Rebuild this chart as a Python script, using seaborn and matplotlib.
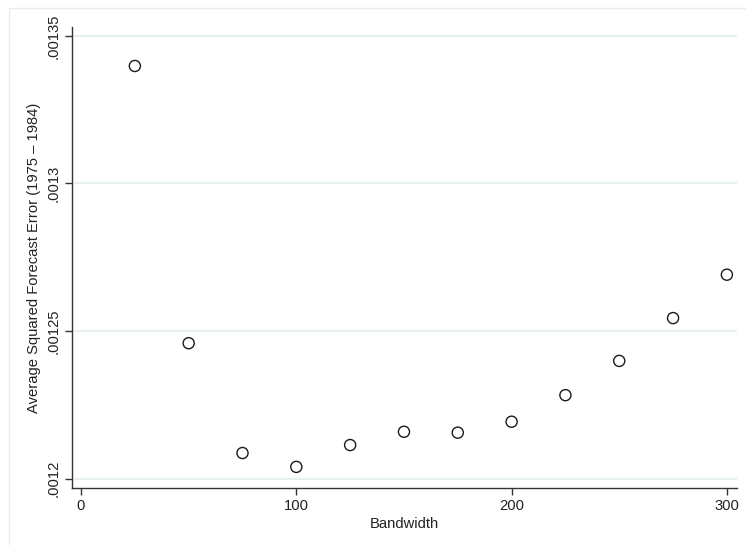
import matplotlib
matplotlib.use("Agg")
import matplotlib.pyplot as plt
from matplotlib.patches import Rectangle
from matplotlib.ticker import FuncFormatter
import seaborn as sns
import pandas as pd

# Bandwidth choices and the resulting average squared forecast error
bandwidth = [25, 50, 75, 100, 125, 150, 175, 200, 225, 250, 275, 300]
avg_sq_error = [0.0013398, 0.0012459, 0.0012087, 0.0012040, 0.0012114, 0.0012159,
                0.0012156, 0.0012193, 0.0012283, 0.0012399, 0.0012544, 0.0012691]
x_ticks = [0, 100, 200, 300]
y_ticks = [0.0012, 0.00125, 0.0013, 0.00135]

df = pd.DataFrame({"Bandwidth": bandwidth, "ASFE": avg_sq_error})

sns.set_theme(style="white")
plt.rcParams["font.family"] = ["Liberation Sans", "DejaVu Sans"]

W, H = 746, 545
fig = plt.figure(figsize=(W / 100, H / 100), dpi=100)
fig.patch.set_facecolor("white")

# faint outer graph-region frame
fig.add_artist(Rectangle((9 / W, -0.1), 1.2, (H - 8) / H + 0.1,
                         transform=fig.transFigure, fill=False,
                         edgecolor="#E6EDEE", linewidth=1.0))

ax = fig.add_axes([72 / W, (H - 488) / H, (737 - 72) / W, (488 - 27) / H])

for yv in y_ticks:
    ax.axhline(yv, color="#E8F1F2", linewidth=1.5, zorder=0)

sns.scatterplot(data=df, x="Bandwidth", y="ASFE", ax=ax, marker="o", s=64,
                facecolor="none", edgecolor="#1a1a1a", linewidth=1.0, zorder=3)

ax.set_xlim(-4.2, 304.7)
ax.set_ylim(0.00119685, 0.001353)
ax.set_xticks(x_ticks)
ax.set_yticks(y_ticks)

def fmt(v, pos):
    s = f"{v:.5f}".rstrip("0")
    return s[1:] if s.startswith("0") else s

ax.yaxis.set_major_formatter(FuncFormatter(fmt))
ax.xaxis.set_major_formatter(FuncFormatter(lambda v, p: f"{int(v)}"))

for side in ["top", "right"]:
    ax.spines[side].set_visible(False)
for side in ["left", "bottom"]:
    ax.spines[side].set_color("#333333")
    ax.spines[side].set_linewidth(1.0)

ax.tick_params(axis="both", which="major", direction="out", length=5, width=1.0,
               color="#333333", labelsize=10.6, labelcolor="#222222",
               bottom=True, left=True, pad=3)
ax.tick_params(axis="y", labelrotation=90)
for lab in ax.get_yticklabels():
    lab.set_verticalalignment("center")

ax.set_xlabel("Bandwidth", fontsize=10.6, color="#222222", labelpad=3)
ax.set_ylabel("Average Squared Forecast Error (1975 \u2013 1984)", fontsize=10.6,
              color="#222222", labelpad=4)

fig.savefig("out.png", dpi=100)
